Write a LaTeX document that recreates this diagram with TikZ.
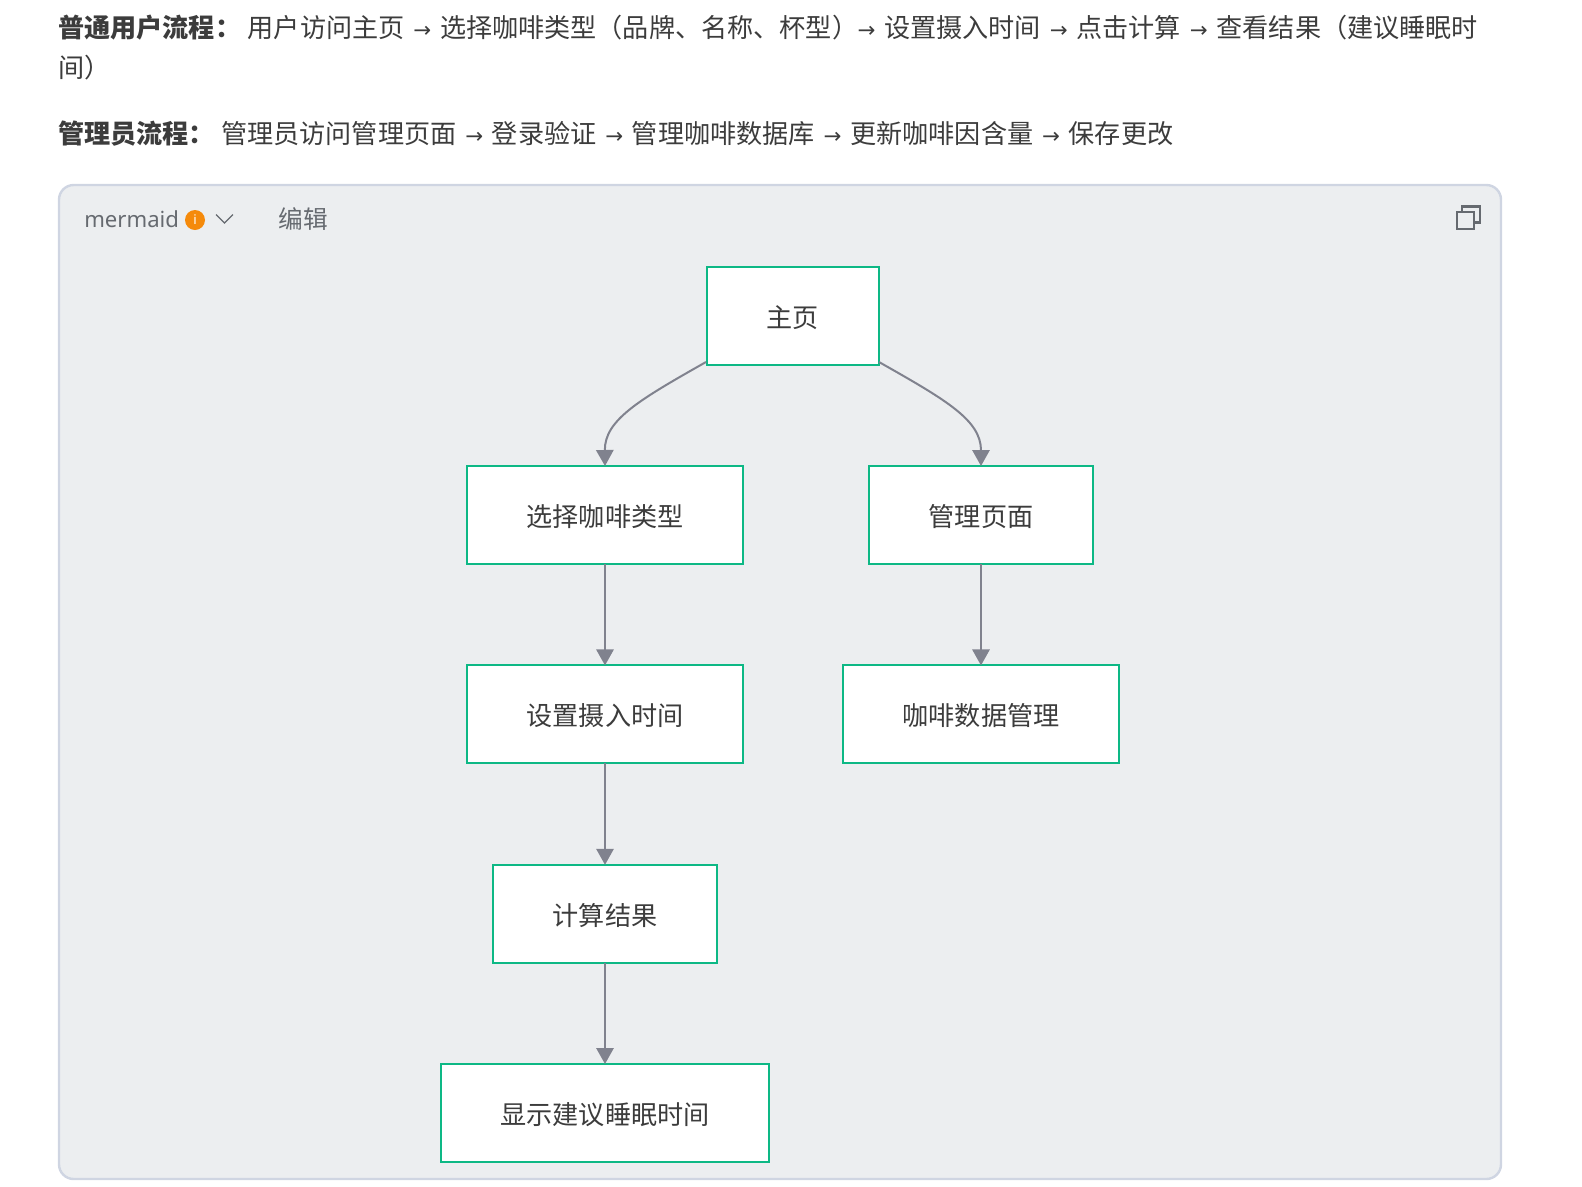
\documentclass[tikz,border=0pt]{standalone}
\usepackage{fontspec}
\setmainfont{Noto Sans CJK SC}
\newfontfamily\latinfont{Noto Sans}
\newfontfamily\arrowfont{DejaVu Sans}
\usetikzlibrary{arrows.meta}
\definecolor{panelfill}{HTML}{ECEEF0}
\definecolor{panelline}{HTML}{CFD5E2}
\definecolor{boxline}{HTML}{0DB885}
\definecolor{linkline}{HTML}{80828E}
\definecolor{bodytext}{HTML}{3C3C3C}
\definecolor{toolgray}{HTML}{666A70}
\definecolor{badge}{HTML}{F58A0B}
\newcommand{\arr}{\hspace{6.6pt}{\arrowfont\fontsize{16}{16}\selectfont →}\hspace{6.6pt}}

\begin{document}
\begin{tikzpicture}[x=0.75pt,y=-0.75pt,
	flowbox/.style={draw=boxline,line width=1.5pt,fill=white,minimum height=73.5pt,inner sep=0pt,outer sep=0pt,text=bodytext,text height=18.5pt,text depth=1.2pt,font=\fontsize{19.6}{24}\selectfont},
	link/.style={draw=linkline,line width=1.5pt,->,>={Triangle[length=12pt,width=13pt]},color=linkline},
	para/.style={anchor=base west,inner sep=0pt,text=bodytext,font=\fontsize{19.6}{24}\selectfont},
	tool/.style={anchor=base west,inner sep=0pt,text=toolgray,font=\fontsize{18.5}{20}\selectfont}]
	\useasboundingbox (0,0) rectangle (1582,1186);
	% text above the panel
	\node (userhead) at (58,37) [para] {\textbf{普通用户流程：}};
	\node (userflow) at (247.5,37) [para] {用户访问主页\arr 选择咖啡类型（品牌、名称、杯型）\hspace{-7pt}\arr 设置摄入时间\arr 点击计算\arr 查看结果（建议睡眠时};
	\node (userrest) at (58,77) [para] {间）};
	\node (adminhead) at (58,143) [para] {\textbf{管理员流程：}};
	\node (adminflow) at (221,143) [para] {管理员访问管理页面\arr 登录验证\arr 管理咖啡数据库\arr 更新咖啡因含量\arr 保存更改};
	% panel and its tool row
	\draw [panelline,fill=panelfill,line width=1.8pt,rounded corners=11pt] (59,185) rectangle (1501,1179);
	\node (lang) at (84,227.5) [tool,font=\latinfont\fontsize{16.6}{20}\selectfont] {mermaid};
	\node (info) at (195,220) [circle,fill=badge,text=white,inner sep=0pt,minimum size=15pt,font=\latinfont\bfseries\fontsize{10}{10}\selectfont] {i};
	\draw [toolgray,line width=1pt] (216,214.5) -- (224.5,223) -- (233,214.5);
	\node (edit) at (278.5,228.5) [tool] {编辑};
	\draw [toolgray,line width=1.7pt] (1462,211) -- (1462,206.5) -- (1480,206.5) -- (1480,222.5) -- (1474,222.5);
	\draw [toolgray,line width=1.9pt] (1457,212) rectangle (1474,229);
	% flow chart
	\node (home) at (792.7,315.7) [flowbox,minimum width=129pt] {主页};
	\node (select) at (605,515) [flowbox,minimum width=207pt] {选择咖啡类型};
	\node (admin) at (981,515) [flowbox,minimum width=168pt] {管理页面};
	\node (intake) at (605,714.4) [flowbox,minimum width=207pt] {设置摄入时间};
	\node (data) at (981,714.4) [flowbox,minimum width=207.5pt] {咖啡数据管理};
	\node (calc) at (605,913.8) [flowbox,minimum width=168pt] {计算结果};
	\node (show) at (605,1113) [flowbox,minimum width=246pt] {显示建议睡眠时间};
	\coordinate (homeleft) at (706,362);
	\coordinate (homeright) at (879,362);
	\draw [link] (homeleft) .. controls (639,400) and (604.5,420) .. (select.north);
	\draw [link] (homeright) .. controls (946,400) and (981,420) .. (admin.north);
	\foreach \a/\b in {select/intake,intake/calc,calc/show,admin/data}
		\draw [link] (\a.south) -- (\b.north);
\end{tikzpicture}
\end{document}
